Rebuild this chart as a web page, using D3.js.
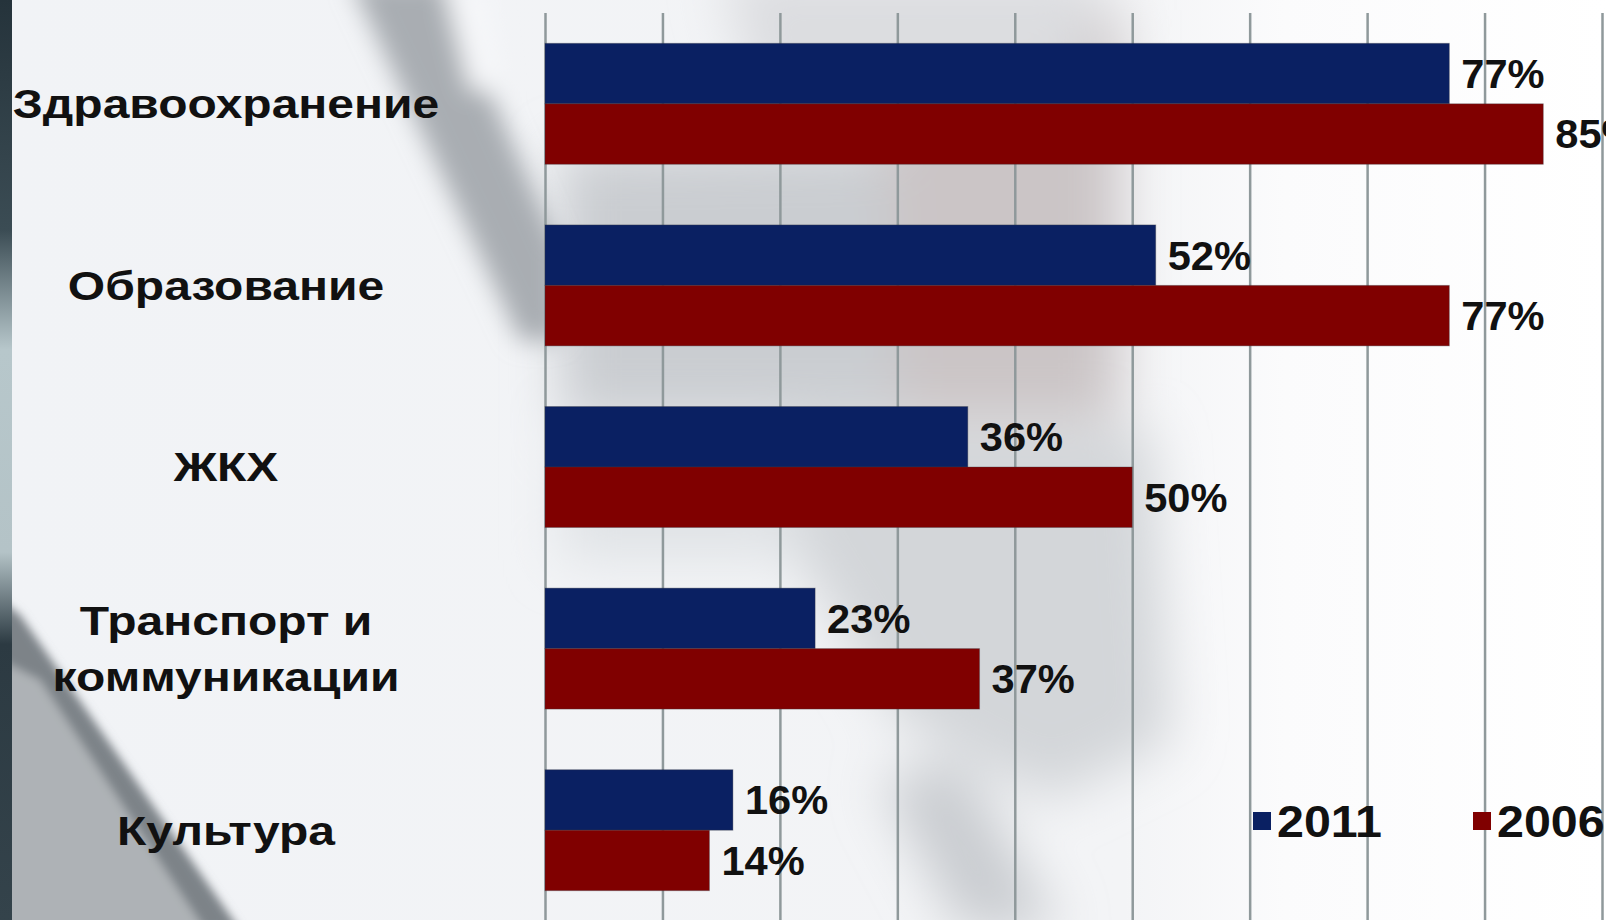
<!DOCTYPE html>
<html>
<head>
<meta charset="utf-8">
<script src="https://cdn.jsdelivr.net/npm/d3@7"></script>
<style>
	body { margin: 0; background: #f3f5f8; overflow: hidden; }
	svg { display: block; }
	text { font-family: "Liberation Sans", Arial, sans-serif; font-weight: bold; fill: #111; }
</style>
</head>
<body>
<div id="chart"></div>
<script>
const WIDTH = 1606
const HEIGHT = 920
const PLOT = { LEFT: 545, RIGHT: 1602, TOP: 13, BOTTOM: 921 }
const LABEL_X = 226

// data (percent)
const CATEGORIES = ["Здравоохранение", "Образование", "ЖКХ", "Транспорт и\nкоммуникации", "Культура"]
const SERIES = ["2011", "2006"]
const VALUES_2011 = [77, 52, 36, 23, 16]
const VALUES_2006 = [85, 77, 50, 37, 14]
const GRID_TICKS = [0, 10, 20, 30, 40, 50, 60, 70, 80, 90]
const COLORS = ["#0a2062", "#800000"]

class BarChart {
	constructor(element) {
		let vis = this

		vis.svg = d3.select(element)
			.append("svg")
				.attr("width", WIDTH)
				.attr("height", HEIGHT)

		vis.drawBackground()

		vis.x = d3.scaleLinear()
			.domain([0, 90])
			.range([PLOT.LEFT, PLOT.RIGHT])

		vis.y = d3.scaleBand()
			.domain(CATEGORIES)
			.range([PLOT.TOP, PLOT.BOTTOM])
			.paddingInner(0.334)
			.paddingOuter(0.167)

		vis.ySeries = d3.scaleBand()
			.domain(SERIES)
			.range([0, vis.y.bandwidth()])

		vis.color = d3.scaleOrdinal()
			.domain(SERIES)
			.range(COLORS)

		vis.rows = CATEGORIES.map((c, i) => ({
			category: c,
			values: [
				{ series: SERIES[0], value: VALUES_2011[i] },
				{ series: SERIES[1], value: VALUES_2006[i] }
			]
		}))

		vis.update()
	}

	// blurred photo behind the chart, roughly
	drawBackground() {
		let vis = this
		const defs = vis.svg.append("defs")
		const blur = (id, s) => defs.append("filter").attr("id", id)
			.attr("x", "-50%").attr("y", "-50%").attr("width", "200%").attr("height", "200%")
			.append("feGaussianBlur").attr("stdDeviation", s)
		blur("blur", 26)
		blur("blurMid", 12)
		blur("blurSoft", 5)

		const base = defs.append("linearGradient").attr("id", "base")
			.attr("x1", 0).attr("y1", 0).attr("x2", 1).attr("y2", 0)
		base.append("stop").attr("offset", "0").attr("stop-color", "#f1f3f6")
		base.append("stop").attr("offset", "0.7").attr("stop-color", "#f3f4f6")
		base.append("stop").attr("offset", "0.8").attr("stop-color", "#fbfbfc")
		base.append("stop").attr("offset", "1").attr("stop-color", "#ffffff")

		const bg = vis.svg.append("g")
		bg.append("rect").attr("width", WIDTH).attr("height", HEIGHT).attr("fill", "url(#base)")

		const wide = bg.append("g").attr("filter", "url(#blur)")
		wide.append("path").attr("d", "M560,150 L1120,140 L1120,420 L560,420 Z").attr("fill", "#cacdd1")
		wide.append("path").attr("d", "M880,20 L1120,10 L1120,420 L900,420 Z").attr("fill", "#cbc5c6")
		wide.append("path").attr("d", "M720,-30 L1100,-30 L1080,90 L760,110 Z").attr("fill", "#dcdde0")
		wide.append("path").attr("d", "M790,430 L1150,430 L1170,740 L1050,800 L900,720 L800,560 Z").attr("fill", "#d3d6d9")
		wide.append("path").attr("d", "M560,440 L780,440 L800,560 L560,560 Z").attr("fill", "#e0e3e6")
		wide.append("path").attr("d", "M880,780 L960,760 L1060,930 L960,930 Z").attr("fill", "#c9ccd0")

		// pen crossing the top
		const mid = bg.append("g").attr("filter", "url(#blurMid)")
		mid.append("path").attr("d", "M350,-20 L440,-20 L560,250 L560,340 L520,340 Z").attr("fill", "#a9adb2")
		mid.append("path").attr("d", "M445,-10 L485,-10 L500,90 L470,90 Z").attr("fill", "#f6f7f9")

		// dark wedge at the lower left
		const soft = bg.append("g").attr("filter", "url(#blurSoft)")
		soft.append("path").attr("d", "M0,600 L20,615 L240,930 L0,930 Z").attr("fill", "#7d8388")
		soft.append("path").attr("d", "M0,660 L40,680 L205,930 L0,930 Z").attr("fill", "#aeb2b6")

		// dark strip on the left edge
		const strip = defs.append("linearGradient").attr("id", "strip")
			.attr("x1", 0).attr("y1", 0).attr("x2", 0).attr("y2", 1)
		strip.append("stop").attr("offset", "0").attr("stop-color", "#25333b")
		strip.append("stop").attr("offset", "0.25").attr("stop-color", "#3b4c54")
		strip.append("stop").attr("offset", "0.38").attr("stop-color", "#b7c7cb")
		strip.append("stop").attr("offset", "0.6").attr("stop-color", "#b4c3c7")
		strip.append("stop").attr("offset", "0.7").attr("stop-color", "#2c3a42")
		strip.append("stop").attr("offset", "1").attr("stop-color", "#34434b")
		bg.append("rect").attr("width", 12).attr("height", HEIGHT).attr("fill", "url(#strip)")
	}

	update() {
		let vis = this

		// vertical gridlines
		const gridCall = d3.axisBottom(vis.x)
			.tickValues(GRID_TICKS)
			.tickSize(-(PLOT.BOTTOM - PLOT.TOP))
			.tickFormat("")

		const grid = vis.svg.append("g")
			.attr("transform", `translate(0, ${PLOT.BOTTOM})`)
			.call(gridCall)
		grid.select(".domain").remove()
		grid.selectAll("line")
			.attr("stroke", "#8f999b")
			.attr("stroke-width", 2.5)

		// bar groups
		const groups = vis.svg.selectAll("g.row")
			.data(vis.rows)
			.enter().append("g")
				.attr("class", "row")
				.attr("transform", d => `translate(0, ${vis.y(d.category)})`)

		groups.selectAll("rect")
			.data(d => d.values)
			.enter().append("rect")
				.attr("x", vis.x(0))
				.attr("y", d => vis.ySeries(d.series))
				.attr("width", d => vis.x(d.value) - vis.x(0))
				.attr("height", vis.ySeries.bandwidth())
				.attr("fill", d => vis.color(d.series))
				.attr("stroke", "rgba(60,60,70,0.35)")
				.attr("stroke-width", 1)

		groups.selectAll("text.value")
			.data(d => d.values)
			.enter().append("text")
				.attr("class", "value")
				.attr("transform", d => `translate(${vis.x(d.value) + 12}, ${vis.ySeries(d.series) + vis.ySeries.bandwidth() / 2}) scale(1.04, 1)`)
				.attr("dy", "0.36em")
				.attr("font-size", 40)
				.text(d => d.value + "%")

		// category labels (the original type is set wide)
		const labels = vis.svg.selectAll("text.cat")
			.data(CATEGORIES)
			.enter().append("text")
				.attr("class", "cat")
				.attr("text-anchor", "middle")
				.attr("font-size", 40)
				.attr("transform", d => `translate(${LABEL_X}, ${vis.y(d) + vis.y.bandwidth() / 2}) scale(1.2, 1)`)

		labels.selectAll("tspan")
			.data(d => {
				const lines = d.split("\n")
				return lines.map((l, i) => ({ text: l, dy: (i - (lines.length - 1) / 2) * 56 }))
			})
			.enter().append("tspan")
				.attr("x", 0)
				.attr("y", d => d.dy)
				.attr("dy", "0.36em")
				.text(d => d.text)

		// legend
		const legend = vis.svg.append("g")
			.selectAll("g")
			.data(SERIES)
			.enter().append("g")
				.attr("transform", (d, i) => `translate(${1253 + i * 220}, 812)`)

		legend.append("rect")
			.attr("width", 18)
			.attr("height", 18)
			.attr("fill", d => vis.color(d))

		legend.append("text")
			.attr("transform", "translate(24, 25) scale(1.1, 1)")
			.attr("font-size", 44)
			.text(d => d)
	}
}

new BarChart("#chart")
</script>
</body>
</html>
